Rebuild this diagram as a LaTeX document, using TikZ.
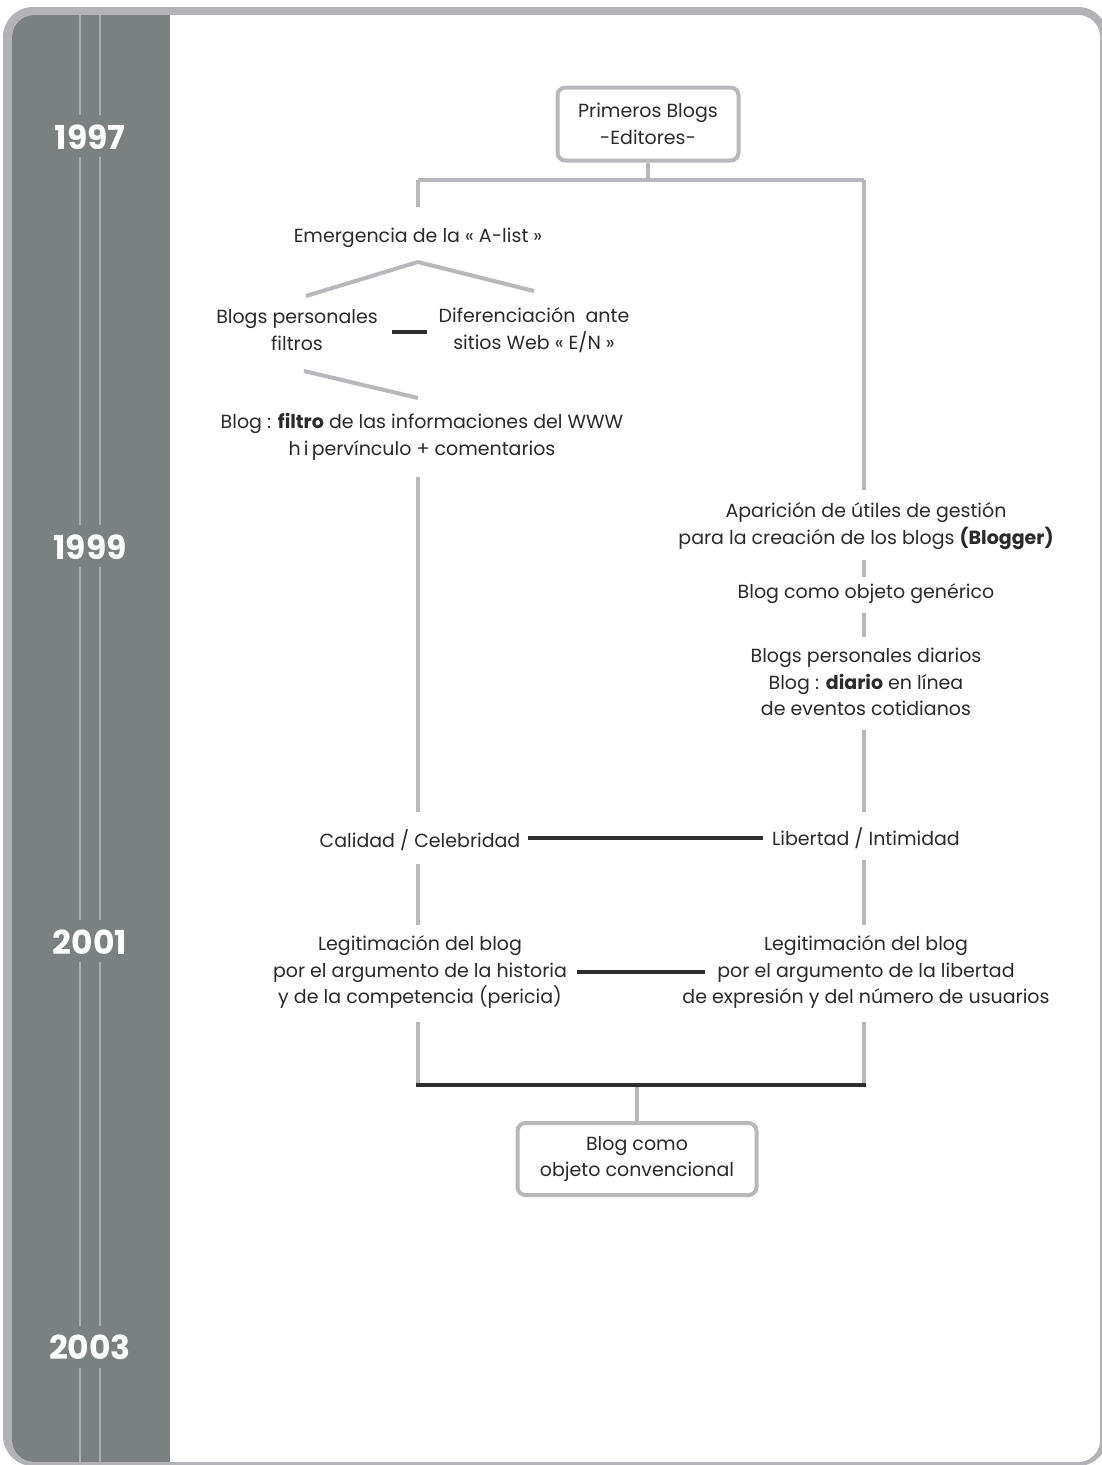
\documentclass[tikz,border=0pt]{standalone}
\usepackage{fontspec}
\setmainfont{Poppins}
\definecolor{framec}{HTML}{B3B3B7}
\definecolor{panelc}{HTML}{7B8080}
\definecolor{pline}{HTML}{A9ADAE}
\definecolor{glc}{HTML}{B8B8BC}
\definecolor{dkc}{HTML}{2E2E2E}
\definecolor{txc}{HTML}{2A2A2A}
\tikzset{
  lbl/.style={inner sep=0pt, align=center, text=txc, font=\fontsize{19}{26.5}\selectfont},
  boxn/.style={lbl, draw=glc, line width=4pt, rounded corners=8pt},
  year/.style={inner sep=0pt, text=white, font=\bfseries\fontsize{33}{33}\selectfont},
  gl/.style={draw=glc, line width=4pt},
  dl/.style={draw=dkc, line width=4pt},
  pl/.style={draw=pline, line width=1.2pt}
}
\begin{document}
\begin{tikzpicture}[x=1pt,y=-1pt]
\useasboundingbox (0,0) rectangle (1102,1465);
\clip (0,0) rectangle (1102,1465);
% frame
\fill[framec, rounded corners=30pt] (3,7) rectangle (1108,1466);
\begin{scope}
\clip[rounded corners=22pt] (12,15) rectangle (1100,1462);
\fill[white] (12,15) rectangle (1100,1462);
\fill[panelc] (12,15) rectangle (170,1462);
\end{scope}
% panel lines and years
\foreach \xx in {80,100} {
  \draw[pl] (\xx,15) -- (\xx,115);
  \draw[pl] (\xx,157) -- (\xx,525);
  \draw[pl] (\xx,567) -- (\xx,920);
  \draw[pl] (\xx,962) -- (\xx,1326);
  \draw[pl] (\xx,1368) -- (\xx,1462);
}
\node[year] (y1997) at (90,137) {1997};
\node[year] (y1999) at (90,547) {1999};
\node[year] (y2001) at (90,942) {2001};
\node[year] (y2003) at (90,1347) {2003};
% nodes
\node[boxn, minimum width=181pt, minimum height=73pt] (top) at (648,124) {Primeros Blogs\\-Editores-};
\node[lbl] (emerg) at (418,238) {Emergencia de la « A-list »};
\node[lbl] (bpf) at (297,330) {Blogs personales\\filtros};
\node[lbl] (dif) at (534,330) {Diferenciación\ \ ante\\sitios Web « E/N »};
\node[lbl] (filtro) at (422,437) {Blog : \textbf{filtro} de las informaciones del WWW\\h\,i\,pervínculo + comentarios};
\node[lbl] (apar) at (866,526) {Aparición de útiles de gestión\\para la creación de los blogs \textbf{(Blogger)}};
\node[lbl] (gen) at (866,594) {Blog como objeto genérico};
\node[lbl] (diar) at (866,682) {Blogs personales diarios\\Blog : \textbf{diario} en línea\\de eventos cotidianos};
\node[lbl] (cal) at (420,840) {Calidad / Celebridad};
\node[lbl] (lib) at (866,838) {Libertad / Intimidad};
\node[lbl] (legL) at (420,972) {Legitimación del blog\\por el argumento de la historia\\y de la competencia (pericia)};
\node[lbl] (legR) at (866,972) {Legitimación del blog\\por el argumento de la libertad\\de expresión y del número de usuarios};
\node[boxn, minimum width=239pt, minimum height=72pt] (bot) at (637,1159) {Blog como\\objeto convencional};
% coordinates
\coordinate (j1) at (648,180);
\coordinate (cL) at (418,180);
\coordinate (cR) at (864,180);
\coordinate (eT) at (418,207);
\coordinate (rA) at (864,490);
\coordinate (vL) at (306,296);
\coordinate (vA) at (418,262);
\coordinate (vR) at (534,291);
\coordinate (d1) at (304,371);
\coordinate (d2) at (418,398);
\coordinate (l1a) at (418,477);
\coordinate (l1b) at (418,812);
\coordinate (l2a) at (418,864);
\coordinate (l2b) at (418,925);
\coordinate (l3a) at (418,1022);
\coordinate (bL) at (418,1085);
\coordinate (r1a) at (864,560);
\coordinate (r1b) at (864,577);
\coordinate (r2a) at (864,613);
\coordinate (r2b) at (864,637);
\coordinate (r3a) at (864,730);
\coordinate (r3b) at (864,812);
\coordinate (r4a) at (864,860);
\coordinate (r4b) at (864,925);
\coordinate (r5a) at (864,1022);
\coordinate (bR) at (864,1085);
\coordinate (bM) at (637,1085);
\coordinate (k1a) at (392,332);
\coordinate (k1b) at (427,332);
\coordinate (k2a) at (528,838);
\coordinate (k2b) at (763,838);
\coordinate (k3a) at (577,972);
\coordinate (k3b) at (705,972);
% gray connectors
\draw[gl] (top.south) -- (j1);
\draw[gl] (cL) -- (cR);
\draw[gl] (cL) -- (eT);
\draw[gl] (cR) -- (rA);
\draw[gl] (vL) -- (vA) -- (vR);
\draw[gl] (d1) -- (d2);
\draw[gl] (l1a) -- (l1b);
\draw[gl] (l2a) -- (l2b);
\draw[gl] (l3a) -- (bL);
\draw[gl] (r1a) -- (r1b);
\draw[gl] (r2a) -- (r2b);
\draw[gl] (r3a) -- (r3b);
\draw[gl] (r4a) -- (r4b);
\draw[gl] (r5a) -- (bR);
\draw[gl] (bM) -- (bot.north);
% dark connectors
\draw[dl] (k1a) -- (k1b);
\draw[dl] (k2a) -- (k2b);
\draw[dl] (k3a) -- (k3b);
\draw[dl] ([xshift=-2pt]bL) -- ([xshift=2pt]bR);
\end{tikzpicture}
\end{document}
